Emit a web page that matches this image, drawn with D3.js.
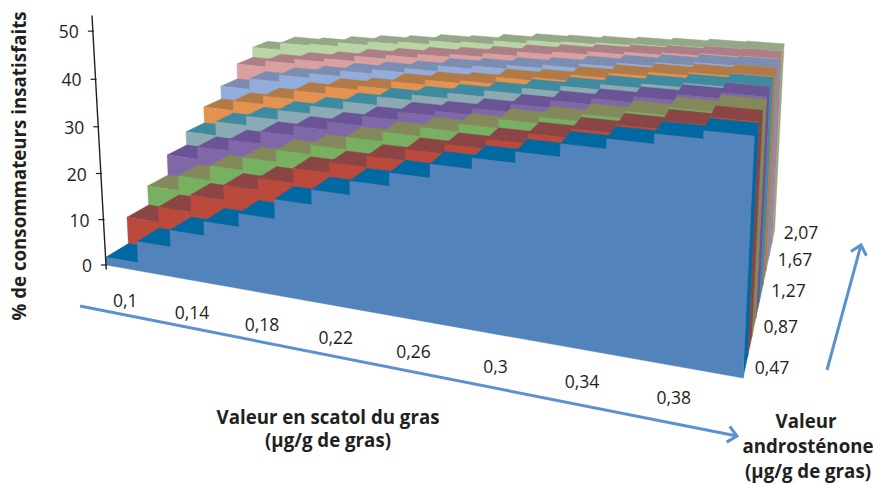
<!DOCTYPE html>
<html><head><meta charset="utf-8">
<style>html,body{margin:0;padding:0;background:#fff}svg{display:block}text{font-family:"Open Sans",sans-serif;fill:#231f20}</style>
<script src="https://cdn.jsdelivr.net/npm/d3@7"></script></head><body>
<svg id="c" width="877" height="484"></svg>
<script>
const scatolLabels=["0,1","0,14","0,18","0,22","0,26","0,3","0,34","0,38"];
const androLabels=["0,47","0,87","1,27","1,67","2,07"];
const zTicks=[0,10,20,30,40,50];
const s047=[1.7,6.4,10,13,15.8,19.8,22.8,25.6,28.2,30.9,33,35.1,37.5,39.3,41.1,42.5];
const s067=[7.7,11.1,14.8,18,20.5,23.6,25.8,28.1,30.4,32.3,34.2,36.2,38,39.6,41.2,42.7];
const s087=[12.1,15.4,18.7,21.5,24.1,26.1,28.7,30.7,32.5,34.1,35.9,37.2,38.6,40,41.5,42.7];
const s107=[16.8,19.7,22.2,25,27.1,28.9,31,32.8,33.8,35.2,36.9,38.4,39.6,40.8,42,43.1];
const s127=[20,23.3,25.5,27.7,29.5,31.3,33.2,34.4,35.6,36.9,38.2,39.4,40.5,41.4,42.3,43.1];
const s147=[23.9,26.2,28.2,30.3,32,32.9,34.7,35.8,36.4,37.9,38.6,39.9,41,41.9,42.6,43.2];
const s167=[27.1,29.7,31.4,32.5,33.9,34.9,35.9,37.2,37.9,38.8,39.5,40.5,41.4,42.2,42.9,43.2];
const s187=[30.9,32.4,33.5,34.4,35.7,36.6,37.5,38.2,39.1,40.1,40.8,41.5,42.1,42.6,43.1,43.3];
const s207=[33.5,35.3,35.7,36.7,37.6,38.2,39.1,39.5,40.4,41.2,41.5,41.9,42.3,42.7,43.1,43.3];
const series=[s047,s067,s087,s107,s127,s147,s167,s187,s207];
const frontColors=["#5283BA","#BC4A3C","#78B061","#8068A8","#8AABB4","#E49250","#92ADD9","#D99FA1","#B9D4A5"];
const topColors=["#0069A2","#8C4545","#84895C","#6A5495","#3E8A9F","#B27A47","#7B8DB1","#AB7F85","#94A887"];

const nCols=s047.length,nRows=series.length;
const uScale=d3.scaleLinear().domain([0,nCols]).range([0,16]);
const vScale=d3.scaleLinear().domain([0,nRows]).range([0,9]);
const zScale=d3.scaleLinear().domain([0,50]).range([0,50]);
// projective camera
const M=[[30.9,26.7,-.33,106],[2.53,-6.2,-4.7,265],[-.012,.0308,-.000723,1]];
function P(i,j,z){const u=uScale(i),v=vScale(j),w=zScale(z);
  const q=M.map(r=>r[0]*u+r[1]*v+r[2]*w+r[3]);return [q[0]/q[2],q[1]/q[2]];}
const svg=d3.select("#c");
const line=d3.line();
function face(pts,col){svg.append("path").attr("d",line(pts)+"Z").attr("fill",col).attr("stroke",col).attr("stroke-width",.4);}

for(let j=nRows-1;j>=0;j--){
  const vals=series[j];
  const z=vals[nCols-1];
  face([P(nCols,j,0),P(nCols,j+1,0),P(nCols,j+1,z),P(nCols,j,z)],topColors[j]);
  vals.forEach((z,i)=>face([P(i,j,z),P(i+1,j,z),P(i+1,j+1,z),P(i,j+1,z)],topColors[j]));
  const front=[P(0,j,0)];
  vals.forEach((z,i)=>{front.push(P(i,j,z),P(i+1,j,z));});
  front.push(P(nCols,j,0));
  face(front,frontColors[j]);
}
// vertical axis
svg.append("path").attr("d",line([P(0,0,-1),P(0,0,53.2)])).attr("stroke","#231f20").attr("stroke-width",1.4).attr("fill","none");
zTicks.forEach(t=>{
  const p=P(0,0,t);
  svg.append("path").attr("d",line([[p[0]-5,p[1]],[p[0]+1,p[1]]])).attr("stroke","#231f20").attr("stroke-width",1.2);
  svg.append("text").attr("x",p[0]-14).attr("y",p[1]+7).attr("text-anchor","end").attr("font-size",17.5).text(t);
});
scatolLabels.forEach((t,k)=>{const p=P(k*2+.5,0,0);
  svg.append("text").attr("x",p[0]+3).attr("y",p[1]+39).attr("text-anchor","middle").attr("font-size",17.5).text(t);});
androLabels.forEach((t,k)=>{const p=P(nCols,k*2,0);
  svg.append("text").attr("x",p[0]+29).attr("y",p[1]-4).attr("text-anchor","middle").attr("font-size",17.5).text(t);});
// titles
function bold(x,y,t,extra){const e=svg.append("text").attr("x",x).attr("y",y).attr("text-anchor","middle").attr("font-size",18.7).attr("font-weight",700).text(t);if(extra)e.attr("transform",extra);return e;}
bold(0,0,"% de consommateurs insatisfaits","translate(26,166) rotate(-90)");
bold(328,424,"Valeur en scatol du gras");
bold(328,447,"(µg/g de gras)");
bold(806,428,"Valeur");
bold(808,453,"androsténone");
bold(808,478,"(µg/g de gras)");
// arrows
svg.append("defs").append("marker").attr("id","a").attr("markerUnits","userSpaceOnUse").attr("viewBox","0 0 20 20").attr("refX",16).attr("refY",10).attr("markerWidth",20).attr("markerHeight",20).attr("orient","auto")
 .append("path").attr("d","M7,2L16,10L7,18").attr("fill","none").attr("stroke","#5B92CE").attr("stroke-width",3);
[[[80,306],[737,436]],[[827,370],[861,245]]].forEach(l=>svg.append("path").attr("d",line(l)).attr("stroke","#5B92CE").attr("stroke-width",3).attr("fill","none").attr("marker-end","url(#a)"));
</script></body></html>
